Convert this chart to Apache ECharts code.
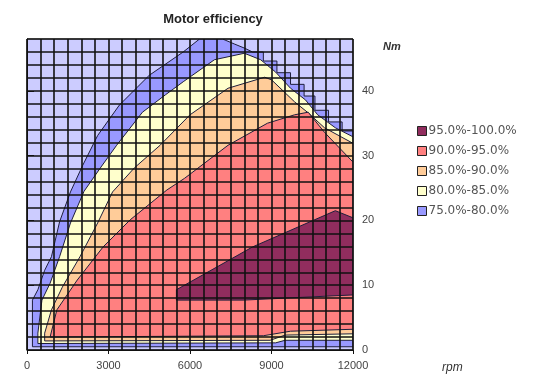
<!DOCTYPE html>
<html>
<head>
<meta charset="utf-8">
<script src="https://cdn.jsdelivr.net/npm/echarts@6/dist/echarts.min.js"></script>
<style>
  html, body { margin: 0; padding: 0; background: #fff; }
  #chart { width: 542px; height: 377px; }
</style>
</head>
<body>
<div id="chart"></div>
<script>
// contour outlines, [rpm, Nm]
var band75 = [[200, 0.5], [200, 7.7], [400, 9.3], [650, 12.3], [900, 14.4], [1200, 19.8], [1600, 24.4],
  [2050, 28.5], [2600, 33.1], [3400, 37.8], [4500, 42.4], [5750, 46], [6350, 48], [7200, 48], [7650, 47.2],
  [8000, 46.6], [8300, 46], [8700, 46], [8700, 44.6], [9200, 44.6], [9200, 42.8], [9700, 42.8],
  [9700, 41.0], [10200, 41.0], [10200, 39.2], [10600, 39.2], [10600, 37.0], [11100, 37.0],
  [11100, 35.2], [11600, 35.2], [11600, 33.8], [12000, 33.8], [12000, 0.5]]
var band80 = [[400, 1.0], [400, 2.6], [550, 7.7], [850, 10.3], [1200, 14.4], [1600, 19.6], [2100, 24.5],
  [2700, 28.1], [3300, 31.6], [4250, 36.7], [5100, 39.4], [5750, 41.4], [6900, 44.8], [8000, 45.8],
  [8600, 44.8], [9150, 42.9], [9700, 40.4], [10250, 38.6], [10700, 36.3], [11350, 34.3], [12000, 32.9],
  [12000, 1.5], [9500, 1.5], [9150, 1.1]]
var band85 = [[650, 1.4], [650, 2.6], [900, 6.2], [1300, 9.7], [1950, 14.4], [2600, 19.6], [3150, 24.4],
  [3950, 28.1], [4900, 31.6], [6000, 36.3], [7400, 40.4], [8750, 42.1], [9000, 41.7], [9850, 38.3],
  [10350, 36.6], [10950, 34.3], [12000, 31.9], [12000, 2.5], [9500, 2.3], [8950, 1.5]]
var band90 = [[850, 2.0], [1100, 6.2], [1850, 10.8], [2800, 15.9], [3800, 20.1], [5150, 24.7], [5800, 26.5],
  [7400, 31.6], [8850, 35.0], [9850, 36.3], [10350, 36.7], [10950, 33.6], [12000, 29.0], [12000, 3.2],
  [9700, 2.9], [8700, 2.2]]
var band95 = [[5500, 9.3], [5500, 7.7], [7950, 7.7], [12000, 8.5], [12000, 20.4], [11350, 21.5], [8300, 15.9]]

var bandNames = ['95.0%-100.0%', '90.0%-95.0%', '85.0%-90.0%', '80.0%-85.0%', '75.0%-80.0%']
var bands = [band95, band90, band85, band80, band75]
var xTicks = [0, 3000, 6000, 9000, 12000]
var yTicks = [0, 10, 20, 30, 40]

var colors = ['#912d5e', '#ff8080', '#ffcc99', '#ffffcc', '#9999ff']

var myChart = echarts.init(document.getElementById('chart'))

function polySeries(i) {
  return {
    name: bandNames[i],
    type: 'custom',
    z: 5 - i,
    clip: true,
    silent: true,
    encode: { x: 0, y: 1 },
    itemStyle: { color: colors[i] },
    data: bands[i],
    renderItem: function (params, api) {
      if (params.dataIndex !== 0) return
      var pts = bands[i].map(function (p) { return api.coord(p) })
      return {
        type: 'polygon',
        shape: { points: pts },
        style: { fill: colors[i], stroke: '#1e1e3c', lineWidth: 1 }
      }
    }
  }
}

var series = []
// draw widest band first
for (var i = bands.length - 1; i >= 0; i--) {
  series.push(polySeries(i))
}

// hidden axes only carry the fine grid
var gridLine = { show: true, lineStyle: { color: '#111', width: 1.6 } }
var plain = function (v) { return String(v) }

var option = {
  animation: false,
  textStyle: { fontFamily: 'Liberation Sans' },
  title: {
    text: 'Motor efficiency',
    left: 208,
    top: 8,
    textAlign: 'center',
    textStyle: { fontSize: 13, fontWeight: 'bold', color: '#222' }
  },
  legend: {
    orient: 'vertical',
    left: 412,
    top: 120,
    itemWidth: 9,
    itemHeight: 9,
    itemGap: 8,
    icon: 'rect',
    data: bandNames.map(function (n, i) {
      return { name: n, itemStyle: { color: colors[i], borderColor: '#222', borderWidth: 1 } }
    }),
    textStyle: { fontSize: 12, color: '#555', fontFamily: 'DejaVu Sans', padding: [0, 0, 0, -3] }
  },
  grid: {
    left: 27, right: 189, top: 39, bottom: 27,
    show: true,
    backgroundColor: '#ccccff',
    borderColor: '#666',
    borderWidth: 1
  },
  xAxis: [{
    type: 'value', min: 0, max: 12000, interval: 3000,
    z: 10,
    axisLine: { show: true, onZero: false, lineStyle: { color: '#111', width: 1 } },
    axisTick: { show: true, length: 4, lineStyle: { color: '#111' } },
    axisLabel: { margin: 10, fontSize: 11, color: '#444', formatter: plain },
    splitLine: { show: false }
  }, {
    type: 'value', min: 0, max: 12000, interval: 500, position: 'top',
    z: 9,
    axisLine: { show: false }, axisTick: { show: false }, axisLabel: { show: false },
    splitLine: gridLine
  }],
  yAxis: [{
    type: 'value', min: 0, max: 48, interval: 10,
    position: 'right',
    z: 10,
    axisLine: { show: true, lineStyle: { color: '#111', width: 1 } },
    axisTick: { show: true, length: 7, customValues: yTicks, lineStyle: { color: '#111' } },
    axisLabel: { customValues: yTicks, margin: 9, fontSize: 11, color: '#444', formatter: plain },
    splitLine: { show: false }
  }, {
    type: 'value', min: 0, max: 48, interval: 2, position: 'left',
    z: 9,
    axisLine: { show: false }, axisTick: { show: false }, axisLabel: { show: false },
    splitLine: gridLine
  }],
  graphic: [
    { type: 'text', left: 383, top: 41, style: { text: 'Nm', font: 'italic bold 11px Liberation Sans', fill: '#333' } },
    { type: 'text', left: 442, top: 362, style: { text: 'rpm', font: 'italic 12px Liberation Sans', fill: '#333' } }
  ],
  series: series
}

myChart.setOption(option)
</script>
</body>
</html>
